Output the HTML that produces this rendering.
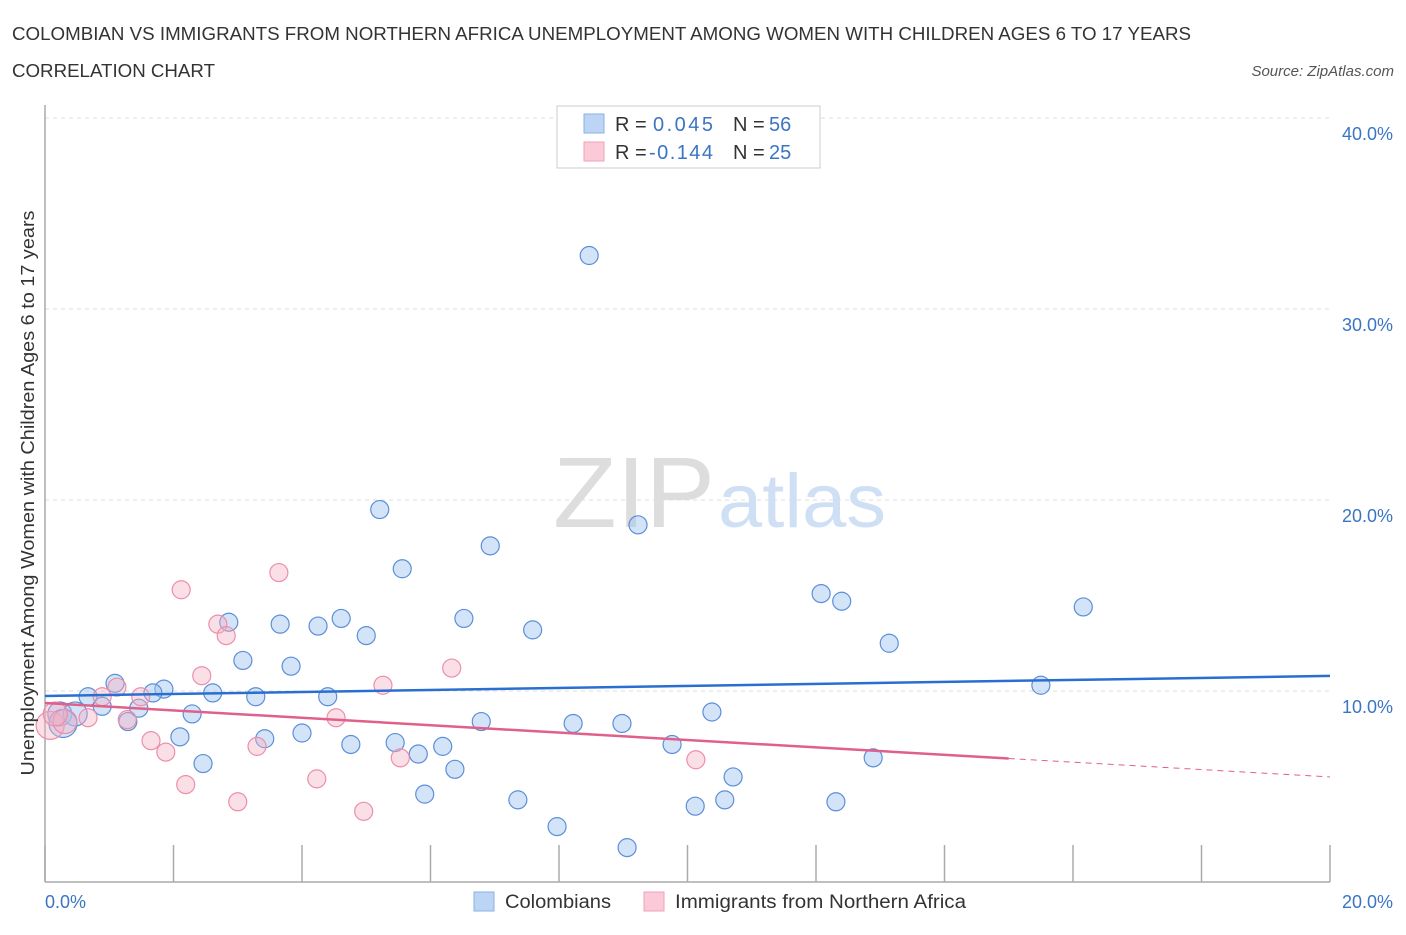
<!DOCTYPE html>
<html><head><meta charset="utf-8"><style>
body{margin:0;background:#fff;font-family:"Liberation Sans",sans-serif;}
svg text{font-family:"Liberation Sans",sans-serif;}
</style></head><body>
<svg id="chart" width="1406" height="930" xmlns="http://www.w3.org/2000/svg">
<text x="12" y="40" font-size="18.5" fill="#333" textLength="1179" lengthAdjust="spacingAndGlyphs">COLOMBIAN VS IMMIGRANTS FROM NORTHERN AFRICA UNEMPLOYMENT AMONG WOMEN WITH CHILDREN AGES 6 TO 17 YEARS</text>
<text x="12" y="77" font-size="18.5" fill="#333" textLength="203" lengthAdjust="spacingAndGlyphs">CORRELATION CHART</text>
<text x="1394" y="76" font-size="15" fill="#555" text-anchor="end" font-style="italic">Source: ZipAtlas.com</text>
<g id="grid"></g>
<text x="553" y="527" font-size="100" fill="#ddd" font-family="Liberation Serif" textLength="162" lengthAdjust="spacingAndGlyphs">ZIP</text>
<text x="718" y="527" font-size="76" fill="#cfe0f5" textLength="168" lengthAdjust="spacingAndGlyphs">atlas</text>
<line x1="45" y1="105" x2="45" y2="882" stroke="#aaa" stroke-width="1.5"/>
<line x1="45" y1="882" x2="1330" y2="882" stroke="#aaa" stroke-width="1.5"/>
<g id="marks"></g>
<text transform="translate(34,493) rotate(-90)" font-size="18" fill="#333" text-anchor="middle" textLength="565" lengthAdjust="spacingAndGlyphs">Unemployment Among Women with Children Ages 6 to 17 years</text>
<text x="45" y="908" font-size="18" fill="#3a75c4">0.0%</text>
<text x="1393" y="908" font-size="18" fill="#3a75c4" text-anchor="end">20.0%</text>
<g>
<rect x="557" y="106" width="263" height="62" fill="#fff" stroke="#ccc"/>
<rect x="584" y="114" width="20" height="19" fill="#bcd5f5" stroke="#8ab0e5"/>
<rect x="584" y="142" width="20" height="19" fill="#fbc9d7" stroke="#eea3b8"/>
<text x="615" y="131" font-size="20" fill="#333">R =</text><text x="653" y="131" font-size="20" fill="#3a75c4" textLength="60">0.045</text>
<text x="733" y="131" font-size="20" fill="#333">N =</text><text x="769" y="131" font-size="20" fill="#3a75c4">56</text>
<text x="615" y="159" font-size="20" fill="#333">R =</text><text x="649" y="159" font-size="20" fill="#3a75c4" textLength="64">-0.144</text>
<text x="733" y="159" font-size="20" fill="#333">N =</text><text x="769" y="159" font-size="20" fill="#3a75c4">25</text>
</g>
<g><rect x="474" y="892" width="20" height="19" fill="#bcd5f5" stroke="#8ab0e5"/><text x="505" y="908" font-size="19" fill="#333" textLength="106" lengthAdjust="spacingAndGlyphs">Colombians</text></g>
<g><rect x="644" y="892" width="20" height="19" fill="#fbc9d7" stroke="#eea3b8"/><text x="675" y="908" font-size="19" fill="#333" textLength="291" lengthAdjust="spacingAndGlyphs">Immigrants from Northern Africa</text></g>
</svg>
<script>
const yTicks=[10,20,30,40];
const yTickLabels=["10.0%","20.0%","30.0%","40.0%"];
const xTicks=[0,2,4,6,8,10,12,14,16,18,20];
const blueX=[8.47,5.21,9.23,6.93,5.56,12.08,12.40,16.16,6.52,4.61,2.86,3.66,4.25,5.00,7.59,13.14,3.08,3.83,1.09,1.85,1.68,2.61,0.67,3.28,4.40,15.50,0.89,1.46,2.29,10.38,0.23,0.47,0.28,1.29,6.79,8.22,8.98,2.10,3.42,4.00,4.76,5.45,6.19,5.81,9.76,12.89,2.46,6.38,10.71,5.91,7.36,10.12,10.58,12.31,7.97,9.06];
const blueY=[32.8,19.5,18.7,17.6,16.4,15.1,14.7,14.4,13.8,13.8,13.6,13.5,13.4,12.9,13.2,12.5,11.6,11.3,10.4,10.1,9.9,9.9,9.7,9.7,9.7,10.3,9.2,9.1,8.8,8.9,8.8,8.8,8.3,8.4,8.4,8.3,8.3,7.6,7.5,7.8,7.2,7.3,7.1,6.7,7.2,6.5,6.2,5.9,5.5,4.6,4.3,3.97,4.3,4.2,2.9,1.8];
const pinkX=[2.12,3.64,2.69,2.82,2.44,6.33,5.26,1.12,0.89,1.49,0.67,1.28,4.53,0.08,0.31,1.65,1.88,3.30,5.53,10.13,2.19,4.23,3.00,4.96,0.16];
const pinkY=[15.3,16.2,13.5,12.9,10.8,11.2,10.3,10.2,9.7,9.7,8.6,8.5,8.6,8.2,8.4,7.4,6.8,7.1,6.5,6.4,5.1,5.4,4.2,3.7,8.8];
const pinkR=[9,9,9,9,9,9,9,9,9,9,9,9,9,14,12,9,9,9,9,9,9,9,9,9,12];
const blueR=[9,9,9,9,9,9,9,9,9,9,9,9,9,9,9,9,9,9,9,9,9,9,9,9,9,9,9,9,9,9,12,12,14,9,9,9,9,9,9,9,9,9,9,9,9,9,9,9,9,9,9,9,9,9,9,9];
const blueTrend=[9.74,10.79];
const pinkTrend=[9.37,5.50];
const pinkSolidEnd=15.0;
const NS="http://www.w3.org/2000/svg";
const X=v=>45+v*64.25, Y=v=>882-v*19.1;
function mk(tag,attrs,parent){const e=document.createElementNS(NS,tag);for(const k in attrs)e.setAttribute(k,attrs[k]);parent.appendChild(e);return e;}
const grid=document.getElementById('grid'), marks=document.getElementById('marks'), svg=document.getElementById('chart');
yTicks.forEach((t,i)=>{
 const l=mk('line',{x1:45,x2:1330,y1:Y(t),y2:Y(t),stroke:'#ddd','stroke-dasharray':'4,4'},grid);
 
 
 const tx=mk('text',{x:1393,y:Y(t)+22,'font-size':18,fill:'#3a75c4','text-anchor':'end'},svg);
 tx.textContent=yTickLabels[i];
 
 
});
xTicks.forEach(t=>{
 const l=mk('line',{x1:X(t),x2:X(t),y1:845,y2:882,stroke:'#aaa','stroke-width':1.5},grid);
 
 
});
blueX.forEach((x,i)=>{
 const c=mk('circle',{cx:X(x),cy:Y(blueY[i]),r:blueR[i],fill:'rgba(160,195,240,0.45)',stroke:'#5b8fd8','stroke-width':1.2},marks);
 
 
});
pinkX.forEach((x,i)=>{
 const c=mk('circle',{cx:X(x),cy:Y(pinkY[i]),r:pinkR[i],fill:'rgba(245,175,195,0.4)',stroke:'#eb8fab','stroke-width':1.2},marks);
 
 
});
const bl=mk('line',{x1:X(0),y1:Y(blueTrend[0]),x2:X(20),y2:Y(blueTrend[1]),stroke:'#2a6fd0','stroke-width':2.5},marks);


const py=x=>pinkTrend[0]+(pinkTrend[1]-pinkTrend[0])*x/20;
const pl=mk('line',{x1:X(0),y1:Y(py(0)),x2:X(pinkSolidEnd),y2:Y(py(pinkSolidEnd)),stroke:'#e0608a','stroke-width':2.5},marks);


const pd=mk('line',{x1:X(pinkSolidEnd),y1:Y(py(pinkSolidEnd)),x2:X(20),y2:Y(py(20)),stroke:'#e0608a','stroke-width':1,'stroke-dasharray':'6,5'},marks);


</script>
</body></html>
